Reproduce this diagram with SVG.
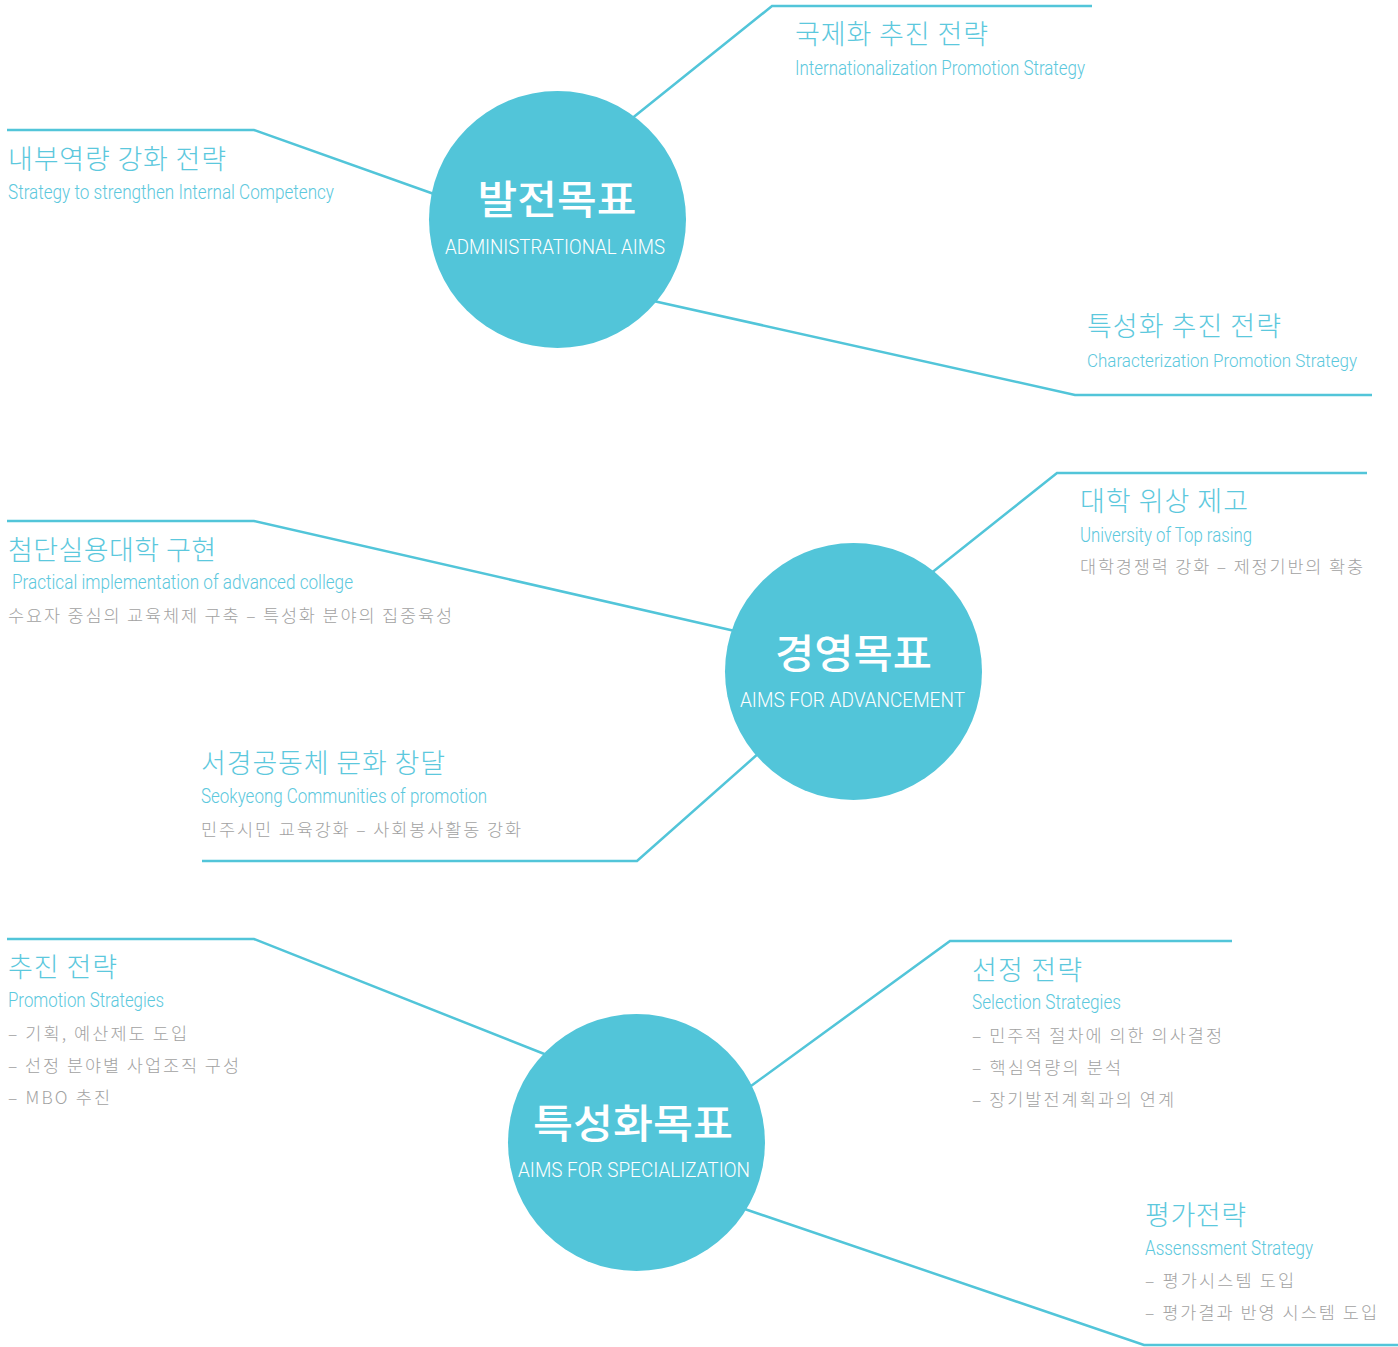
<svg xmlns="http://www.w3.org/2000/svg" width="1398" height="1347" viewBox="0 0 1398 1347">
<style>
.bg{fill:#ffffff}
.ln{fill:none;stroke:#52C5D9;stroke-width:2.5;stroke-linejoin:miter}
.hub{fill:#52C5D9}
.ht{fill:#ffffff;font-family:"Noto Sans CJK KR","Noto Sans",sans-serif;font-weight:500;font-size:40px}
.hs{fill:#ffffff;font-family:Roboto,"Liberation Sans",sans-serif;font-weight:300;font-size:21px}
.kt{fill:#5CC8DD;font-family:"Noto Sans CJK KR","Noto Sans",sans-serif;font-weight:300;font-size:27px}
.et{fill:#5CC8DD;font-family:Roboto,"Liberation Sans",sans-serif;font-weight:300;font-size:20px}
.gt{fill:#A2A2A2;font-family:"Noto Sans CJK KR","Noto Sans",sans-serif;font-weight:300;font-size:17.5px}
</style>
<rect class="bg" x="0" y="0" width="1398" height="1347"/>
<g id="connectors">
  <polyline class="ln" points="1092,6 772,6 620,128"/>
  <polyline class="ln" points="7,130 254,130 448,199"/>
  <polyline class="ln" points="1372,395 1075,395 640,298"/>
  <polyline class="ln" points="1367,473 1057,473 920,582"/>
  <polyline class="ln" points="7,521 254,521 748,634"/>
  <polyline class="ln" points="202,861 637,861 768,745"/>
  <polyline class="ln" points="7,939 254,939 557,1059"/>
  <polyline class="ln" points="1232,941 950,941 740,1094"/>
  <polyline class="ln" points="1398,1345 1144,1345 733,1205"/>
</g>
<g id="node-admin">
  <circle class="hub" cx="557.5" cy="219.5" r="128.5"/>
  <text class="ht" x="557" y="214" text-anchor="middle" textLength="159" lengthAdjust="spacingAndGlyphs">발전목표</text>
  <text class="hs" x="555" y="254" text-anchor="middle" textLength="220" lengthAdjust="spacingAndGlyphs">ADMINISTRATIONAL AIMS</text>
</g>
<g id="node-advance">
  <circle class="hub" cx="853.5" cy="671.5" r="128.5"/>
  <text class="ht" x="853.5" y="668" text-anchor="middle" textLength="157" lengthAdjust="spacingAndGlyphs">경영목표</text>
  <text class="hs" x="852.5" y="707" text-anchor="middle" textLength="225" lengthAdjust="spacingAndGlyphs">AIMS FOR ADVANCEMENT</text>
</g>
<g id="node-special">
  <circle class="hub" cx="636.5" cy="1142.5" r="128.5"/>
  <text class="ht" x="633" y="1138" text-anchor="middle" textLength="200" lengthAdjust="spacingAndGlyphs">특성화목표</text>
  <text class="hs" x="634" y="1177" text-anchor="middle" textLength="232" lengthAdjust="spacingAndGlyphs">AIMS FOR SPECIALIZATION</text>
</g>
<g id="label-internal">
  <text class="kt" x="8" y="169" textLength="218" lengthAdjust="spacing">내부역량 강화 전략</text>
  <text class="et" x="8" y="199" textLength="326" lengthAdjust="spacingAndGlyphs">Strategy to strengthen Internal Competency</text>
</g>
<g id="label-intl">
  <text class="kt" x="795" y="44" textLength="193" lengthAdjust="spacing">국제화 추진 전략</text>
  <text class="et" x="795" y="75" textLength="290" lengthAdjust="spacingAndGlyphs">Internationalization Promotion Strategy</text>
</g>
<g id="label-char">
  <text class="kt" x="1087" y="336" textLength="194" lengthAdjust="spacing">특성화 추진 전략</text>
  <text class="et" x="1087" y="367" textLength="270" lengthAdjust="spacingAndGlyphs" style="font-size:19px">Characterization Promotion Strategy</text>
</g>
<g id="label-univ">
  <text class="kt" x="1080" y="511" textLength="168" lengthAdjust="spacing">대학 위상 제고</text>
  <text class="et" x="1080" y="542" textLength="172" lengthAdjust="spacingAndGlyphs">University of Top rasing</text>
  <text class="gt" x="1080" y="573" textLength="283" lengthAdjust="spacing">대학경쟁력 강화 – 제정기반의 확충</text>
</g>
<g id="label-practical">
  <text class="kt" x="8" y="560" textLength="208" lengthAdjust="spacing">첨단실용대학 구현</text>
  <text class="et" x="12" y="589" textLength="341" lengthAdjust="spacingAndGlyphs">Practical implementation of advanced college</text>
  <text class="gt" x="8" y="622" textLength="444" lengthAdjust="spacing">수요자 중심의 교육체제 구축 – 특성화 분야의 집중육성</text>
</g>
<g id="label-community">
  <text class="kt" x="201" y="773" textLength="244" lengthAdjust="spacing">서경공동체 문화 창달</text>
  <text class="et" x="201" y="803" textLength="286" lengthAdjust="spacingAndGlyphs">Seokyeong Communities of promotion</text>
  <text class="gt" x="201" y="836" textLength="320" lengthAdjust="spacing">민주시민 교육강화 – 사회봉사활동 강화</text>
</g>
<g id="label-promotion">
  <text class="kt" x="8" y="977" textLength="109" lengthAdjust="spacing">추진 전략</text>
  <text class="et" x="8" y="1007" textLength="156" lengthAdjust="spacingAndGlyphs">Promotion Strategies</text>
  <text class="gt" x="8" y="1040" textLength="179" lengthAdjust="spacing">– 기획, 예산제도 도입</text>
  <text class="gt" x="8" y="1072" textLength="231" lengthAdjust="spacing">– 선정 분야별 사업조직 구성</text>
  <text class="gt" x="8" y="1104" textLength="102" lengthAdjust="spacing">– MBO 추진</text>
</g>
<g id="label-selection">
  <text class="kt" x="972" y="980" textLength="110" lengthAdjust="spacing">선정 전략</text>
  <text class="et" x="972" y="1009" textLength="149" lengthAdjust="spacingAndGlyphs">Selection Strategies</text>
  <text class="gt" x="972" y="1042" textLength="250" lengthAdjust="spacing">– 민주적 절차에 의한 의사결정</text>
  <text class="gt" x="972" y="1074" textLength="149" lengthAdjust="spacing">– 핵심역량의 분석</text>
  <text class="gt" x="972" y="1106" textLength="202" lengthAdjust="spacing">– 장기발전계획과의 연계</text>
</g>
<g id="label-assess">
  <text class="kt" x="1145" y="1225" textLength="101" lengthAdjust="spacing">평가전략</text>
  <text class="et" x="1145" y="1255" textLength="168" lengthAdjust="spacingAndGlyphs">Assenssment Strategy</text>
  <text class="gt" x="1145" y="1287" textLength="149" lengthAdjust="spacing">– 평가시스템 도입</text>
  <text class="gt" x="1145" y="1319" textLength="232" lengthAdjust="spacing">– 평가결과 반영 시스템 도입</text>
</g>
</svg>
